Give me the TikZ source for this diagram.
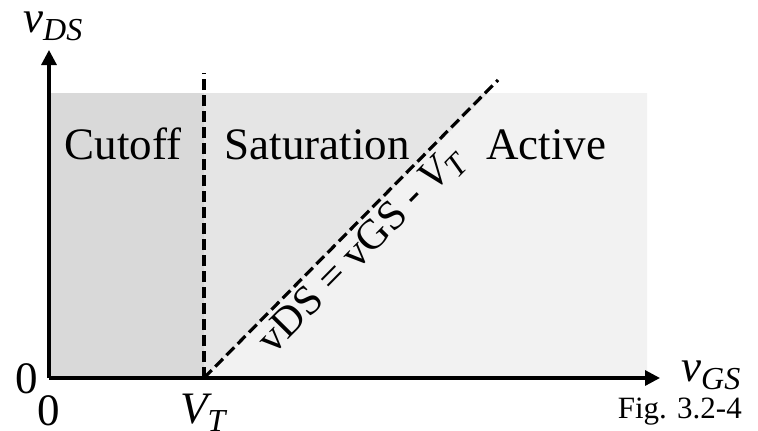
\documentclass[tikz,border=0pt]{standalone}
\usepackage{fontspec}
\setmainfont{Liberation Serif}
\usetikzlibrary{positioning, arrows.meta}
\definecolor{cutgray}{gray}{0.85}
\definecolor{satgray}{gray}{0.90}
\definecolor{actgray}{gray}{0.95}
\newcommand{\lowsub}[1]{\raisebox{-8pt}{\fontsize{32}{32}\selectfont #1}}

\begin{document}
\begin{tikzpicture}[x=1pt, y=-1pt, font=\fontsize{45}{54}\selectfont,
    axis/.style={line width=3.2pt, -{Triangle[length=15pt, width=15pt]}},
    boundary/.style={line width=3.2pt, dash pattern=on 11pt off 5pt},
    region/.style={inner sep=0pt, anchor=base}]
  \useasboundingbox (0,0) rectangle (758,431);
  % shaded regions
  \fill[cutgray] (49,93) rectangle (204,378);
  \fill[satgray] (204,93) -- (489,93) -- (204,378) -- cycle;
  \fill[actgray] (204,378) -- (489,93) -- (647,93) -- (647,378) -- cycle;
  % points
  \coordinate (O) at (49,378);
  \coordinate (xend) at (660,378);
  \coordinate (yend) at (49,50);
  \coordinate (VT) at (204,378);
  \coordinate (vtop) at (204,73);
  \coordinate (dtop) at (498,80);
  % axes and boundaries
  \draw[axis] (O) -- (xend);
  \draw[axis] (O) -- (yend);
  \draw[boundary] (VT) -- (vtop);
  \draw[boundary] (VT) -- (dtop)
    node[pos=0.48, sloped, below, inner sep=4pt, font=\fontsize{42}{50}\selectfont] (law)
    {vDS = vGS - {\itshape V}\lowsub{\itshape T}};
  % labels
  \node[region] (cutoff) at (123,159) {Cutoff};
  \node[region] (sat) at (317,159) {Saturation};
  \node[region] (act) at (546,159) {Active};
  \node[inner sep=0pt, anchor=base west] (vds) at (23,32) {{\itshape v}\lowsub{\itshape DS}};
  \node[inner sep=0pt, anchor=base west] (vgs) at (681,381) {{\itshape v}\lowsub{\itshape GS}};
  \node[region] (zeroy) at (27,393) {0};
  \node[region] (zerox) at (49,425) {0};
  \node[inner sep=0pt, anchor=base west] (vtlab) at (180,423) {{\itshape V}\lowsub{\itshape T}};
  \node[inner sep=0pt, anchor=base east, font=\fontsize{31}{36}\selectfont] (fig) at (742,418) {Fig. 3.2-4};
\end{tikzpicture}
\end{document}
